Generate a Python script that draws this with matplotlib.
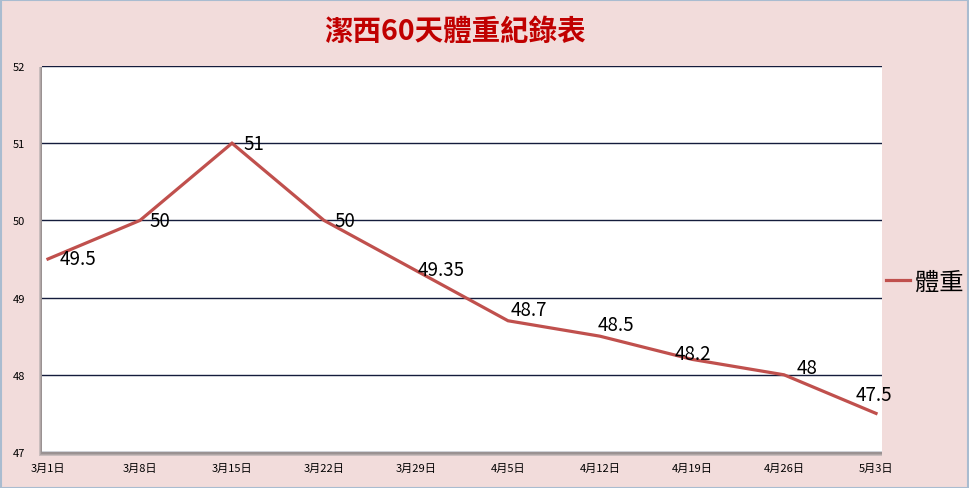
import matplotlib
matplotlib.use("Agg")
import matplotlib.pyplot as plt
from matplotlib.patches import Rectangle

plt.rcParams['font.family'] = ['Noto Sans CJK TC', 'DejaVu Sans']

dates = ["3月1日", "3月8日", "3月15日", "3月22日", "3月29日", "4月5日",
         "4月12日", "4月19日", "4月26日", "5月3日"]
weights = [49.5, 50, 51, 50, 49.35, 48.7, 48.5, 48.2, 48, 47.5]
labels = ["49.5", "50", "51", "50", "49.35", "48.7", "48.5", "48.2", "48", "47.5"]
series_name = "體重"
title = "潔西60天體重紀錄表"

# label offsets in pixels (left edge dx, center dy upward)
label_offsets = [(12, 0), (9, 0), (11, 0), (10, 0), (2, 1), (3, 11),
                 (-2, 12), (-17, 6), (13, 7), (-20, 19)]

W, H = 969, 489
fig = plt.figure(figsize=(W / 100, H / 100), dpi=100)
fig.patch.set_facecolor('#F2DCDB')
fig.patches.append(Rectangle((0.5 / W, 0.5 / H), 1 - 1.5 / W, 1 - 1.5 / H,
                             transform=fig.transFigure, fill=False,
                             edgecolor='#A9BCD0', linewidth=1.5))

left, right, top, bottom = 42, 882, 67, 453
ax = fig.add_axes([left / W, 1 - bottom / H, (right - left) / W, (bottom - top) / H])

# soft shadow of plot area
for i, c in enumerate(['#C9BDBD', '#B0A6A6', '#9A9292']):
    d = 3 - i
    fig.patches.append(Rectangle(((left - d) / W, 1 - (bottom + d + 1) / H),
                                 (right - left + d) / W, (bottom - top + d) / H,
                                 transform=fig.transFigure, facecolor=c,
                                 edgecolor='none', zorder=0.5 + i * 0.1))
ax.set_zorder(1)
ax.set_facecolor('white')

x = list(range(len(dates)))
line, = ax.plot(x, weights, color='#C0504D', linewidth=2.3, solid_joinstyle='miter',
                label=series_name, zorder=3)

for xi, yi, lab, (dx, dy) in zip(x, weights, labels, label_offsets):
    ax.annotate(lab, (xi, yi), xytext=(dx * 0.72, dy * 0.72), textcoords='offset points',
                ha='left', va='center', fontsize=13.5, color='black', zorder=4)

ax.set_ylim(47, 52)
ax.set_xlim(-0.065, len(dates) - 1 + 0.065)
ax.set_yticks([47, 48, 49, 50, 51, 52])
ax.set_xticks(x)
ax.set_xticklabels(dates)
ax.yaxis.grid(True, color='#141C3C', linewidth=1.0)
ax.set_axisbelow(True)
for s in ax.spines.values():
    s.set_visible(False)
ax.tick_params(length=0, labelsize=8, colors='black')
ax.tick_params(axis='y', pad=12)
ax.tick_params(axis='x', pad=8)
for t in ax.get_yticklabels():
    t.set_horizontalalignment('right')

fig.text(455 / W, 1 - 32 / H, title, ha='center', va='center', fontsize=20.5,
         fontweight='bold', color='#C00000')

fig.legend(handles=[line], labels=[series_name], loc='center left',
           bbox_to_anchor=(886 / W, 1 - 283 / H), frameon=False, fontsize=17.5,
           handlelength=1.0, handletextpad=0.2, borderpad=0, borderaxespad=0)

fig.savefig('out.png', dpi=100, facecolor=fig.get_facecolor())
